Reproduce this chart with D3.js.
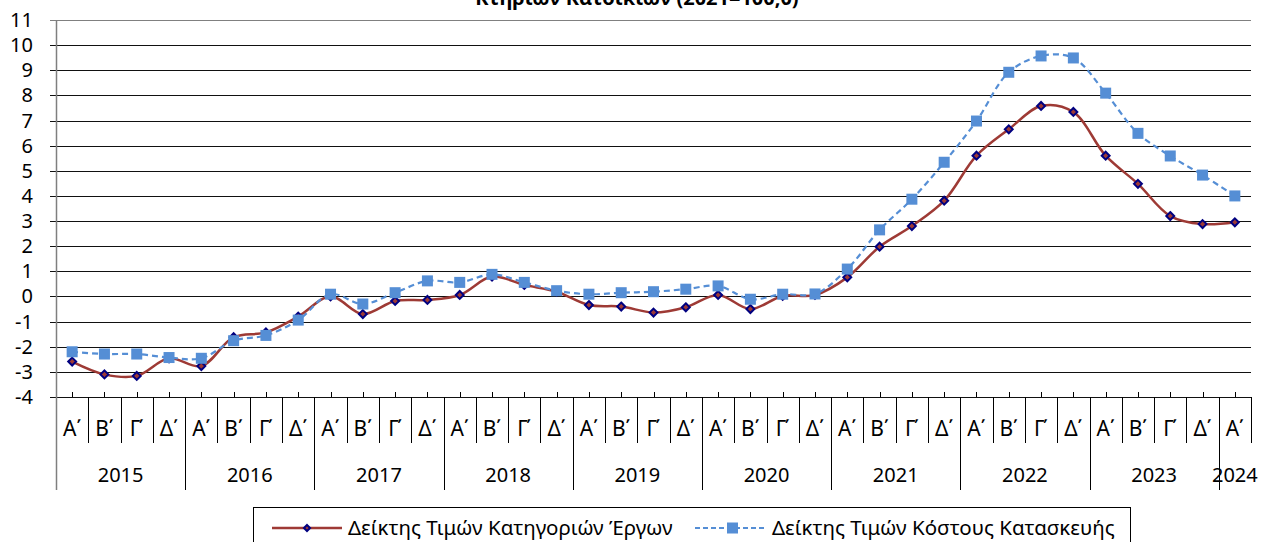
<!DOCTYPE html>
<html>
<head>
<meta charset="utf-8">
<script src="https://cdn.jsdelivr.net/npm/d3@7"></script>
<style>
  body { margin: 0; background: #fff; }
  svg { display: block; font-family: "Noto Sans", sans-serif; }
</style>
</head>
<body>
<div id="chart"></div>
<script>
// categories
const years = ['2015', '2016', '2017', '2018', '2019', '2020', '2021', '2022', '2023', '2024'];
const quartersPerYear = [4, 4, 4, 4, 4, 4, 4, 4, 4, 1];
const quarterNames = ['Α΄', 'Β΄', 'Γ΄', 'Δ΄'];

// series values (annual % change)
const workCategories = [-2.59, -3.10, -3.16, -2.46, -2.77, -1.62, -1.43, -0.80,
  0.00, -0.70, -0.18, -0.14, 0.06, 0.79, 0.46, 0.19,
  -0.34, -0.40, -0.64, -0.43, 0.06, -0.50, 0.02, 0.06,
  0.76, 1.98, 2.80, 3.81, 5.60, 6.65, 7.58, 7.34,
  5.60, 4.48, 3.20, 2.88, 2.95];
const constructionCost = [-2.20, -2.29, -2.29, -2.43, -2.46, -1.76, -1.55, -0.94,
  0.09, -0.30, 0.15, 0.62, 0.56, 0.88, 0.56, 0.23,
  0.09, 0.15, 0.19, 0.29, 0.42, -0.11, 0.09, 0.10,
  1.09, 2.65, 3.87, 5.34, 6.98, 8.92, 9.57, 9.49,
  8.09, 6.49, 5.59, 4.83, 4.00];

const yTicks = d3.range(-4, 12);
const seriesNames = ['Δείκτης Τιμών Κατηγοριών Έργων', 'Δείκτης Τιμών Κόστους Κατασκευής'];

const title = 'Κτηρίων Κατοικιών (2021=100,0)';

// build the category list
const cats = [];
years.forEach((y, i) => {
  for (let q = 0; q < quartersPerYear[i]; q++) cats.push({year: y, q: quarterNames[q]});
});

var W = 1266, H = 542;
var plot = {left: 56, right: 1251, top: 20, bottom: 397};

var svg = d3.select('#chart').append('svg')
  .attr('width', W).attr('height', H);

const x = d3.scaleBand()
  .domain(d3.range(cats.length))
  .range([plot.left, plot.right]);

const y = d3.scaleLinear()
  .domain([-4, 11])
  .range([plot.bottom, plot.top]);

const cx = i => x(i) + x.bandwidth() / 2;

// title (its upper part falls outside the frame, as in the source)
svg.append('text')
  .attr('x', 637).attr('y', 5)
  .attr('text-anchor', 'middle')
  .style('font-size', '20px').style('font-weight', 'bold')
  .text(title);

// gridlines
svg.append('g')
  .selectAll('line')
  .data(yTicks)
  .join('line')
  .attr('x1', plot.left - 6).attr('x2', plot.right)
  .attr('y1', d => Math.round(y(d)) + 0.5).attr('y2', d => Math.round(y(d)) + 0.5)
  .attr('stroke', d => d === 11 ? '#808080' : '#111')
  .attr('stroke-width', 1);

// y axis line
svg.append('line')
  .attr('x1', plot.left + 0.5).attr('x2', plot.left + 0.5)
  .attr('y1', plot.top).attr('y2', 490)
  .attr('stroke', '#7f7f7f').attr('stroke-width', 1.5);

// y tick labels
svg.append('g')
  .selectAll('text')
  .data(yTicks)
  .join('text')
  .attr('x', 33).attr('y', d => y(d))
  .attr('dy', '0.35em')
  .attr('text-anchor', 'end')
  .style('font-size', '20px')
  .text(d => d);

// category axis: minor ticks at centres
const catAxis = svg.append('g');
catAxis.selectAll('line.minor')
  .data(cats)
  .join('line')
  .attr('class', 'minor')
  .attr('x1', (d, i) => Math.round(cx(i)) + 0.5).attr('x2', (d, i) => Math.round(cx(i)) + 0.5)
  .attr('y1', plot.bottom - 5).attr('y2', plot.bottom)
  .attr('stroke', '#000');

// separators between quarters / years
const bounds = d3.range(1, cats.length + 1);
catAxis.selectAll('line.sep')
  .data(bounds)
  .join('line')
  .attr('class', 'sep')
  .attr('x1', i => Math.round(x(i) ?? plot.right) + 0.5)
  .attr('x2', i => Math.round(x(i) ?? plot.right) + 0.5)
  .attr('y1', plot.bottom)
  .attr('y2', i => (i < cats.length && cats[i].q === quarterNames[0]) ? 490 : 443)
  .attr('stroke', '#000');

catAxis.selectAll('text.q')
  .data(cats)
  .join('text')
  .attr('class', 'q')
  .attr('x', (d, i) => cx(i)).attr('y', 429)
  .attr('dy', '0.35em')
  .attr('text-anchor', 'middle')
  .style('font-size', '21px')
  .text(d => d.q);

let start = 0;
const yearPos = years.map((yr, i) => {
  const mid = (x(start) + x(start + quartersPerYear[i] - 1) + x.bandwidth()) / 2;
  start += quartersPerYear[i];
  return {yr, mid};
});
catAxis.selectAll('text.yr')
  .data(yearPos)
  .join('text')
  .attr('class', 'yr')
  .attr('x', d => d.mid).attr('y', 475)
  .attr('dy', '0.35em')
  .attr('text-anchor', 'middle')
  .style('font-size', '20px')
  .text(d => d.yr);

// lines
const line = d3.line()
  .x((d, i) => cx(i))
  .y(d => y(d))
  .curve(d3.curveCatmullRom.alpha(0.5));

const red = '#9e3a35', navy = '#000080', blue = '#558ed5';

svg.append('path')
  .attr('d', line(workCategories))
  .attr('fill', 'none').attr('stroke', red).attr('stroke-width', 2.5);

const diamond = d3.symbol().type(d3.symbolDiamond2).size(40);
svg.append('g')
  .selectAll('path')
  .data(workCategories)
  .join('path')
  .attr('d', diamond)
  .attr('transform', (d, i) => `translate(${cx(i)},${y(d)})`)
  .attr('fill', red).attr('stroke', navy).attr('stroke-width', 2);

svg.append('path')
  .attr('d', line(constructionCost))
  .attr('fill', 'none').attr('stroke', blue).attr('stroke-width', 2.2)
  .attr('stroke-dasharray', '6,4');

svg.append('g')
  .selectAll('rect')
  .data(constructionCost)
  .join('rect')
  .attr('x', (d, i) => cx(i) - 5.5).attr('y', d => y(d) - 5.5)
  .attr('width', 11).attr('height', 11)
  .attr('fill', blue);

// legend
const legend = svg.append('g');
const ly = 528;
legend.append('rect')
  .attr('x', 253.5).attr('y', 507.5)
  .attr('width', 877).attr('height', 40)
  .attr('fill', 'none').attr('stroke', '#000');

legend.append('line')
  .attr('x1', 272).attr('x2', 342).attr('y1', ly).attr('y2', ly)
  .attr('stroke', red).attr('stroke-width', 2.5);
legend.append('path')
  .attr('d', d3.symbol().type(d3.symbolDiamond2).size(24))
  .attr('transform', `translate(307,${ly})`)
  .attr('fill', red).attr('stroke', navy).attr('stroke-width', 2);
legend.append('text')
  .attr('x', 348).attr('y', ly).attr('dy', '0.35em')
  .style('font-size', '20.5px')
  .text(seriesNames[0]);

legend.append('line')
  .attr('x1', 695).attr('x2', 764).attr('y1', ly).attr('y2', ly)
  .attr('stroke', blue).attr('stroke-width', 2.2).attr('stroke-dasharray', '5,3');
legend.append('rect')
  .attr('x', 727).attr('y', ly - 5.5).attr('width', 11).attr('height', 11)
  .attr('fill', blue);
legend.append('text')
  .attr('x', 772).attr('y', ly).attr('dy', '0.35em')
  .style('font-size', '20.5px')
  .text(seriesNames[1]);
</script>
</body>
</html>
